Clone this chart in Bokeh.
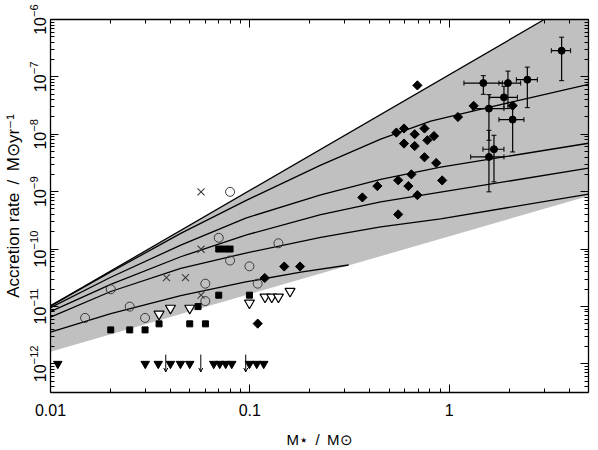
from math import pi
from bokeh.plotting import figure
from bokeh.models import (FixedTicker, LogAxis, CustomJSTickFormatter, ColumnDataSource,
                          Range1d, Arrow, OpenHead)
from bokeh.embed import file_html
from bokeh.resources import INLINE

# ---------------- data ----------------
# shaded region (model envelope)
band_x = [0.01, 3.0, 5.0, 5.0, 0.01]
band_y = [1.02e-11, 1.0e-6, 1.0e-6, 8.4e-10, 1.62e-12]

# model curves
top_x = [0.01, 3.0]
top_y = [1.02e-11, 1.0e-6]
c2_x = [0.01, 0.02006, 0.04502, 0.09539, 0.2268, 0.4533, 0.8078, 1.578, 2.877, 5.0]
c2_y = [1.02e-11, 3.98e-11, 1.876e-10, 6.97e-10, 2.90e-9, 8.22e-9, 1.70e-8, 2.94e-8, 4.76e-8, 7.43e-8]
c3_x = [0.01, 0.02006, 0.04502, 0.09539, 0.2268, 0.4533, 0.906, 5.0]
c3_y = [9.53e-12, 3.22e-11, 1.17e-10, 3.46e-10, 8.83e-10, 1.63e-9, 2.67e-9, 6.97e-9]
c4_x = [0.01, 0.02006, 0.04502, 0.09539, 0.2268, 0.4533, 0.906, 5.0]
c4_y = [8.13e-12, 2.42e-11, 7.34e-11, 1.75e-10, 3.98e-10, 6.65e-10, 9.8e-10, 2.56e-9]
c5_x = [0.01, 0.02006, 0.04502, 0.09539, 0.2268, 0.4533, 0.906, 5.0]
c5_y = [6.49e-12, 1.82e-11, 4.61e-11, 8.5e-11, 1.60e-10, 2.44e-10, 3.35e-10, 9.06e-10]
c6_x = [0.01, 0.02006, 0.04502, 0.09539, 0.18, 0.313]
c6_y = [3.56e-12, 7.46e-12, 1.54e-11, 2.67e-11, 3.95e-11, 5.27e-11]

# filled diamonds
dia_x = [0.1095, 0.1188, 0.1488, 0.1786, 0.367, 0.4363, 0.5434, 0.5548, 0.5548, 0.5934,
         0.5934, 0.6244, 0.6463, 0.6714, 0.6714, 0.6927, 0.6927, 0.7517, 0.7517, 0.7774,
         0.839, 0.8606, 0.9224, 1.107, 1.327, 2.082]
dia_y = [5.02e-12, 3.13e-11, 4.96e-11, 4.96e-11, 7.93e-10, 1.25e-9, 1.07e-8, 1.58e-9, 4.01e-10, 1.26e-8,
         6.89e-9, 1.25e-9, 2.0e-9, 1.0e-8, 6.24e-9, 7.11e-8, 8.69e-10, 1.26e-8, 3.98e-9, 7.87e-9,
         9.31e-9, 3.16e-9, 1.57e-9, 2.0e-8, 3.13e-8, 3.15e-8]

# filled circles with error bars
eb_x = [1.484, 1.972, 2.467, 3.666, 1.883, 1.583, 2.082, 1.678, 1.583]
eb_y = [7.80e-8, 7.80e-8, 8.93e-8, 2.86e-7, 4.40e-8, 2.80e-8, 1.80e-8, 5.48e-9, 4.03e-9]
eb_xlo = [1.186, 1.777, 2.173, 3.254, 1.596, 1.307, 1.777, 1.477, 1.282]
eb_xhi = [1.848, 2.284, 2.769, 4.067, 2.198, 1.883, 2.372, 1.883, 1.883]
eb_ylo = [4.97e-8, 2.80e-8, 2.91e-8, 8.59e-8, 2.80e-8, 7.87e-9, 4.92e-9, 1.48e-9, 9.93e-10]
eb_yhi = [1.05e-7, 1.26e-7, 1.48e-7, 4.92e-7, 6.84e-8, 4.90e-8, 3.19e-8, 9.61e-9, 1.17e-8]

# open circles
oc_x = [0.01491, 0.02006, 0.02497, 0.02981, 0.0598, 0.0598, 0.06982, 0.07958, 0.07958, 0.09954,
        0.1095, 0.1391]
oc_y = [6.31e-12, 1.99e-11, 9.93e-12, 6.31e-12, 2.49e-11, 1.24e-11, 1.57e-10, 9.93e-10, 6.31e-11, 5.0e-11,
        2.49e-11, 1.26e-10]

# crosses
cr_x = [0.03817, 0.04753, 0.05691, 0.05691, 0.05691]
cr_y = [3.17e-11, 3.17e-11, 9.93e-10, 9.93e-11, 1.57e-11]

# filled squares
sq_x = [0.02006, 0.02497, 0.02981, 0.03504, 0.04995, 0.05988, 0.05498, 0.06982, 0.06982, 0.07464,
        0.07958, 0.09954]
sq_y = [3.9e-12, 3.9e-12, 3.9e-12, 4.97e-12, 4.97e-12, 4.97e-12, 9.93e-12, 1.57e-11, 1.0e-10, 1.0e-10,
        1.0e-10, 1.57e-11]

# open inverted triangles
ot_x = [0.03504, 0.03998, 0.04995, 0.09954, 0.1192, 0.1288, 0.1391, 0.1591]
ot_y = [7.35e-12, 9.33e-12, 9.33e-12, 1.15e-11, 1.46e-11, 1.46e-11, 1.46e-11, 1.84e-11]

# filled inverted triangles (upper limits at 1e-12)
ft_x = [0.01088, 0.02988, 0.03472, 0.03998, 0.04487, 0.04995, 0.06592, 0.07063, 0.07568, 0.08115,
        0.09954, 0.1083, 0.1174]
ft_y = [1e-12] * 13

# arrows (upper limits)
ar_x = [0.03787, 0.05676, 0.09537]
ar_y = [1e-12, 1e-12, 1e-12]

x_major = [0.01, 0.1, 1.0]
x_minor = [0.02, 0.03, 0.04, 0.05, 0.06, 0.07, 0.08, 0.09,
           0.2, 0.3, 0.4, 0.5, 0.6, 0.7, 0.8, 0.9, 2.0, 3.0, 4.0, 5.0]
y_major = [1e-12, 1e-11, 1e-10, 1e-9, 1e-8, 1e-7, 1e-6]
y_minor = [m * 10.0 ** e for e in range(-13, -6) for m in range(2, 10)]

FONT = "Liberation Sans"

p = figure(frame_width=538, frame_height=373, x_axis_type="log", y_axis_type="log",
           x_range=Range1d(0.01, 5.0), y_range=Range1d(10 ** -12.5, 1e-6),
           output_backend="svg", toolbar_location=None,
           min_border_left=0, min_border_right=10, min_border_top=19, min_border_bottom=0,
           x_axis_location=None, y_axis_location=None)
p.grid.visible = False
p.outline_line_color = None
p.background_fill_color = "white"


def style_axis(ax, ticks, minors, labels=True):
    ax.ticker = FixedTicker(ticks=ticks, minor_ticks=minors)
    ax.major_tick_in = 8
    ax.major_tick_out = 0
    ax.minor_tick_in = 4
    ax.minor_tick_out = 0
    ax.axis_line_color = "black"
    ax.axis_line_width = 1.3
    ax.major_tick_line_color = "black"
    ax.minor_tick_line_color = "black"
    ax.major_tick_line_width = 1
    ax.minor_tick_line_width = 1
    ax.major_label_text_font = FONT
    ax.major_label_text_color = "black"
    ax.axis_label_text_font = FONT
    ax.axis_label_text_font_style = "normal"
    ax.axis_label_text_color = "black"
    if labels:
        ax.major_label_text_font_size = "16px"
    else:
        ax.major_label_text_font_size = "1px"
        ax.major_label_text_alpha = 0


xb = LogAxis(axis_label="M⋆\u2002/\u2002M⊙")
style_axis(xb, x_major, x_minor)
xb.formatter = CustomJSTickFormatter(code="return tick.toString();")
xb.axis_label_text_font_size = "15px"
xb.major_label_standoff = 11
xb.axis_label_standoff = 12
p.add_layout(xb, "below")

xt = LogAxis()
style_axis(xt, x_major, x_minor, labels=False)
xt.major_label_standoff = 0
p.add_layout(xt, "above")

yl = LogAxis(axis_label="Accretion rate\u2002/\u2002M⊙yr⁻¹")
style_axis(yl, y_major, y_minor)
yl.axis_label_text_font_size = "17px"
yl.major_label_orientation = "vertical"
yl.major_label_standoff = 5
yl.axis_label_standoff = 3
p.add_layout(yl, "left")

yr = LogAxis()
style_axis(yr, y_major, y_minor, labels=False)
yr.major_label_standoff = 0
p.add_layout(yr, "right")

# shaded band
p.patch(band_x, band_y, fill_color="#c0c0c0", line_color=None)

# curves
for cx, cy in [(top_x, top_y), (c2_x, c2_y), (c3_x, c3_y), (c4_x, c4_y), (c5_x, c5_y), (c6_x, c6_y)]:
    p.line(cx, cy, line_color="black", line_width=1.3, line_join="round")

# error bars
src = ColumnDataSource(dict(x=eb_x, y=eb_y, xlo=eb_xlo, xhi=eb_xhi, ylo=eb_ylo, yhi=eb_yhi))
p.segment(x0="x", y0="ylo", x1="x", y1="yhi", source=src, line_color="black", line_width=1.2)
p.segment(x0="xlo", y0="y", x1="xhi", y1="y", source=src, line_color="black", line_width=1.2)
p.scatter(x="x", y="ylo", source=src, marker="dash", size=5, line_color="black")
p.scatter(x="x", y="yhi", source=src, marker="dash", size=5, line_color="black")
p.scatter(x="xlo", y="y", source=src, marker="dash", angle=pi / 2, size=5, line_color="black")
p.scatter(x="xhi", y="y", source=src, marker="dash", angle=pi / 2, size=5, line_color="black")
p.scatter("x", "y", source=src, marker="circle", size=7, fill_color="black", line_color="black")

# markers
p.scatter(dia_x, dia_y, marker="square", angle=pi / 4, size=6.5, fill_color="black", line_color="black")
p.scatter(oc_x, oc_y, marker="circle", size=9, fill_color=None, line_color="#3a3a3a", line_width=1)
p.scatter(cr_x, cr_y, marker="x", size=10, line_color="#3a3a3a", line_width=1.1)
p.scatter(sq_x, sq_y, marker="square", size=6, fill_color="black", line_color="black")
p.scatter(ot_x, ot_y, marker="inverted_triangle", size=10, fill_color="white", line_color="black",
          line_width=1.2)
p.scatter(ft_x, ft_y, marker="inverted_triangle", size=8.5, fill_color="black", line_color="black")

# upper-limit arrows
ar_src = ColumnDataSource(dict(x=ar_x, top=[v * 1.45 for v in ar_y], bot=[v * 0.72 for v in ar_y]))
p.add_layout(Arrow(source=ar_src, x_start="x", y_start="top", x_end="x", y_end="bot",
                   line_color="black", line_width=1,
                   end=OpenHead(size=4, line_color="black", line_width=1)))

open("out.html", "w").write(file_html(p, INLINE))
